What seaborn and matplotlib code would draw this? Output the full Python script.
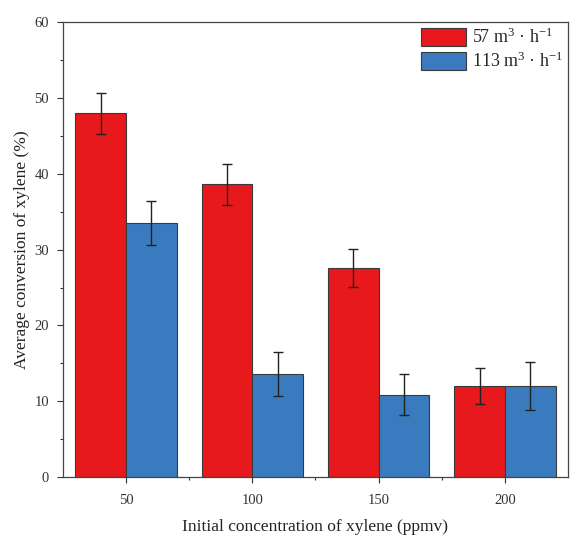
import matplotlib
matplotlib.use("Agg")
import matplotlib.pyplot as plt
from matplotlib.ticker import MultipleLocator, FixedLocator
import seaborn as sns
import pandas as pd

concentrations = ["50", "100", "150", "200"]
flow_labels = [r"57 m$^{3}$ · h$^{-1}$", r"113 m$^{3}$ · h$^{-1}$"]
conv_57 = [48.0, 38.6, 27.6, 12.0]
err_57 = [2.7, 2.7, 2.5, 2.4]
conv_113 = [33.5, 13.6, 10.9, 12.0]
err_113 = [2.9, 2.9, 2.7, 3.2]
bar_colors = ["#E8191C", "#3A7BBF"]

sns.set_style("ticks")
plt.rcParams["font.family"] = ["Liberation Serif", "DejaVu Serif"]
plt.rcParams["mathtext.fontset"] = "custom"
plt.rcParams["mathtext.rm"] = "Liberation Serif"
plt.rcParams["mathtext.it"] = "Liberation Serif:italic"

df = pd.DataFrame({
    "conc": concentrations * 2,
    "flow": [flow_labels[0]] * 4 + [flow_labels[1]] * 4,
    "conv": conv_57 + conv_113,
    "err": err_57 + err_113,
})

fig = plt.figure(figsize=(5.71, 5.38), dpi=100)
ax = fig.add_axes([0.110, 0.113, 0.885, 0.846])

sns.barplot(data=df, x="conc", y="conv", hue="flow", order=concentrations,
            hue_order=flow_labels, palette=bar_colors, errorbar=None,
            width=0.8, edgecolor="#3a3a3a", linewidth=0.8, saturation=1, ax=ax)

# error bars at the centre of each bar
for container, errs, vals in zip(ax.containers, [err_57, err_113], [conv_57, conv_113]):
    xs = [p.get_x() + p.get_width() / 2 for p in container.patches]
    ax.errorbar(xs, vals, yerr=errs, fmt="none", ecolor="#222222",
                elinewidth=1.0, capsize=3.5, capthick=1.0, zorder=5)

ax.set_xlim(-0.5, 3.5)
ax.set_ylim(0, 60)
ax.yaxis.set_major_locator(MultipleLocator(10))
ax.yaxis.set_minor_locator(MultipleLocator(5))
ax.xaxis.set_minor_locator(FixedLocator([0.5, 1.5, 2.5]))
ax.tick_params(axis="both", which="major", direction="out", length=4,
               width=0.8, labelsize=10.5, colors="#333333")
ax.tick_params(axis="x", which="major", pad=8)
ax.tick_params(axis="y", which="major", pad=6)
ax.tick_params(axis="both", which="minor", direction="out", length=2.5,
               width=0.8, colors="#333333")

for side in ["top", "right", "left", "bottom"]:
    ax.spines[side].set_visible(True)
    ax.spines[side].set_linewidth(0.9)
    ax.spines[side].set_color("#444444")

ax.set_xlabel("Initial concentration of xylene (ppmv)", fontsize=12.5,
              color="#222222", labelpad=9)
ax.set_ylabel("Average conversion of xylene (%)", fontsize=12.5,
              color="#222222", labelpad=3)

leg = ax.legend(loc="upper right", frameon=False, fontsize=13, handlelength=2.5,
                handleheight=1.15, handletextpad=0.3, labelspacing=0.25,
                borderaxespad=0.1, borderpad=0.2)
for h in leg.legend_handles:
    h.set_edgecolor("#3a3a3a")

fig.savefig("out.png", dpi=100)
